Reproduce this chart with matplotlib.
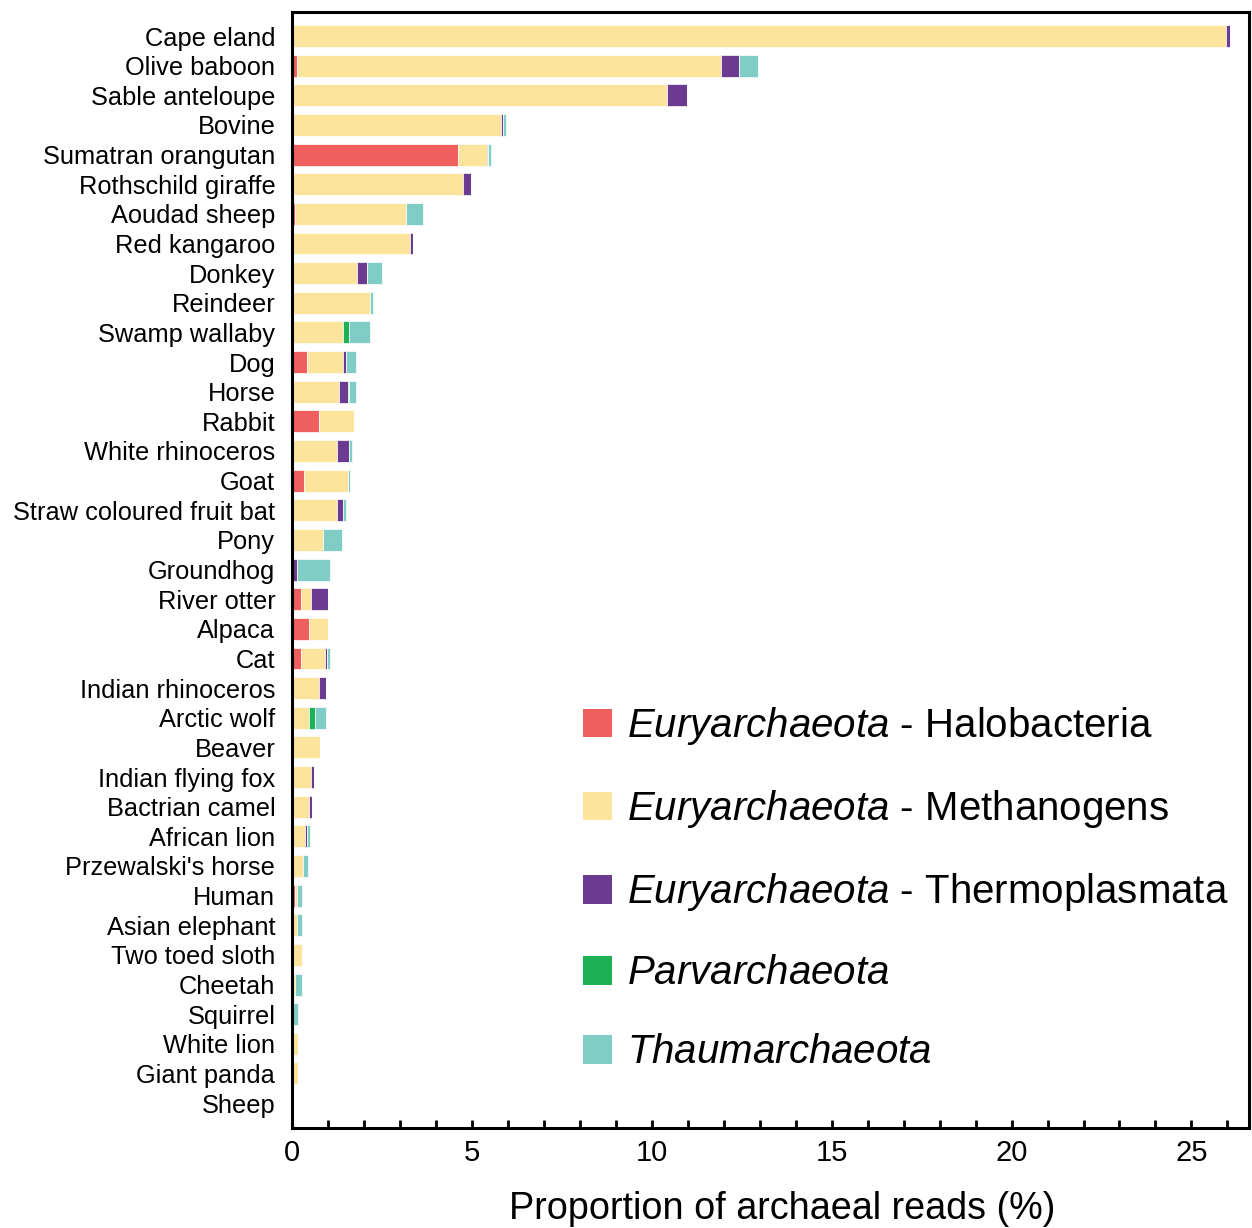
import matplotlib
matplotlib.use("Agg")
import matplotlib.pyplot as plt
import numpy as np
from matplotlib.patches import Patch
from matplotlib.ticker import MultipleLocator

plt.rcParams["font.family"] = ["Liberation Sans", "DejaVu Sans"]
plt.rcParams["mathtext.fontset"] = "custom"
plt.rcParams["mathtext.it"] = "Liberation Sans:italic"
plt.rcParams["mathtext.rm"] = "Liberation Sans"

# 動物種（上から順）
animals = [
    "Cape eland", "Olive baboon", "Sable anteloupe", "Bovine", "Sumatran orangutan",
    "Rothschild giraffe", "Aoudad sheep", "Red kangaroo", "Donkey", "Reindeer",
    "Swamp wallaby", "Dog", "Horse", "Rabbit", "White rhinoceros", "Goat",
    "Straw coloured fruit bat", "Pony", "Groundhog", "River otter", "Alpaca", "Cat",
    "Indian rhinoceros", "Arctic wolf", "Beaver", "Indian flying fox", "Bactrian camel",
    "African lion", "Przewalski's horse", "Human", "Asian elephant", "Two toed sloth",
    "Cheetah", "Squirrel", "White lion", "Giant panda", "Sheep",
]

# 各グループの割合 (%)
halobacteria = [0, 0.15, 0, 0, 4.62, 0, 0.09, 0, 0, 0,
                0, 0.42, 0, 0.76, 0, 0.32, 0, 0, 0, 0.25, 0.48, 0.25,
                0, 0, 0, 0, 0, 0, 0, 0.09, 0, 0, 0, 0, 0, 0, 0]
methanogens = [25.96, 11.77, 10.41, 5.81, 0.80, 4.74, 3.07, 3.28, 1.81, 2.16,
               1.42, 1.00, 1.31, 0.96, 1.26, 1.23, 1.26, 0.86, 0.04, 0.27, 0.52, 0.68,
               0.76, 0.48, 0.78, 0.52, 0.48, 0.35, 0.31, 0.06, 0.15, 0.28, 0.09, 0.02,
               0.17, 0.17, 0]
thermoplasmata = [0.10, 0.50, 0.57, 0.05, 0.04, 0.24, 0, 0.09, 0.28, 0,
                  0, 0.07, 0.25, 0, 0.33, 0, 0.17, 0, 0.10, 0.49, 0, 0.05,
                  0.18, 0, 0, 0.08, 0.07, 0.07, 0, 0, 0, 0, 0, 0, 0, 0, 0]
parvarchaeota = [0, 0, 0, 0, 0, 0, 0, 0, 0, 0,
                 0.17, 0, 0.02, 0, 0, 0, 0, 0, 0, 0, 0, 0,
                 0, 0.17, 0, 0, 0, 0, 0, 0, 0, 0, 0, 0, 0, 0, 0]
thaumarchaeota = [0, 0.52, 0, 0.08, 0.08, 0, 0.48, 0, 0.42, 0.08,
                  0.59, 0.29, 0.20, 0, 0.09, 0.06, 0.08, 0.54, 0.92, 0, 0, 0.09,
                  0, 0.29, 0, 0, 0, 0.09, 0.13, 0.13, 0.13, 0, 0.19, 0.15, 0, 0, 0]

groups = [
    (halobacteria, "#EF5F5E", r"$\it{Euryarchaeota}$ - Halobacteria"),
    (methanogens, "#FDE49C", r"$\it{Euryarchaeota}$ - Methanogens"),
    (thermoplasmata, "#6B3B91", r"$\it{Euryarchaeota}$ - Thermoplasmata"),
    (parvarchaeota, "#1DB054", r"$\it{Parvarchaeota}$"),
    (thaumarchaeota, "#80CDC6", r"$\it{Thaumarchaeota}$"),
]

fig = plt.figure(figsize=(12.52, 12.28), dpi=100)
ax = fig.add_axes([292 / 1252, 1 - 1128 / 1228, (1249 - 292) / 1252, (1128 - 12) / 1228])

y = np.arange(len(animals))
left = np.zeros(len(animals))
handles = []
for vals, color, label in groups:
    vals = np.array(vals)
    ax.barh(y, vals, left=left, height=0.74, color=color, edgecolor="white", linewidth=0.5)
    left += vals
    handles.append(Patch(facecolor=color, edgecolor="none", label=label))

ax.set_ylim(len(animals) - 1 + 0.84, -0.81)
ax.set_xlim(0, 26.6)
ax.set_yticks(y)
ax.set_yticklabels(animals, fontsize=18.3)
ax.tick_params(axis="y", length=0, pad=12)

ax.xaxis.set_major_locator(MultipleLocator(5))
ax.xaxis.set_minor_locator(MultipleLocator(1))
ax.tick_params(axis="x", which="both", direction="in", length=6, width=2, labelsize=21, pad=8)
ax.set_xlabel("Proportion of archaeal reads (%)", fontsize=27.2, labelpad=17)
ax.xaxis.label.set_x(0.512)

for s in ax.spines.values():
    s.set_linewidth(2.2)

leg = ax.legend(handles=handles, loc="upper left", bbox_to_anchor=(567 / 1252, 1 - 689 / 1228),
                bbox_transform=fig.transFigure, frameon=False, fontsize=29,
                handlelength=0.72, handleheight=0.72, handletextpad=0.38, labelspacing=1.02,
                borderaxespad=0)

fig.savefig("out.png", dpi=100)
